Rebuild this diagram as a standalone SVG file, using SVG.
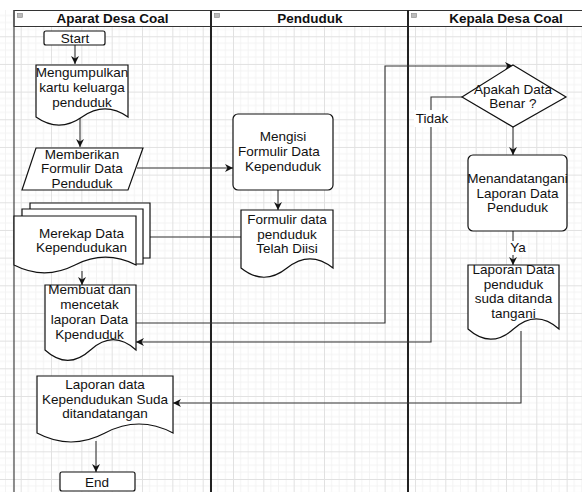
<svg xmlns="http://www.w3.org/2000/svg" width="582" height="492" viewBox="0 0 582 492">
<defs>
<pattern id="grid" patternUnits="userSpaceOnUse" x="20.7" y="8.6" width="30.33" height="27.67">
<path d="M7.58,0V27.67M15.17,0V27.67M22.75,0V27.67M0,6.92H30.33M0,13.83H30.33M0,20.75H30.33" stroke="#f3f3f3" stroke-width="1" fill="none"/>
<path d="M0.5,0V27.67M0,0.5H30.33" stroke="#e1e1e1" stroke-width="1" fill="none"/>
</pattern>
<marker id="arr" viewBox="0 0 10 10" refX="10" refY="5" markerWidth="8" markerHeight="8" markerUnits="userSpaceOnUse" orient="auto">
<path d="M0,0L10,5L0,10L3,5Z" fill="#111"/>
</marker>
<style>
.t{font-family:"Liberation Sans",Arial,sans-serif;font-size:13.5px;fill:#111;text-anchor:middle}
.h{font-family:"Liberation Sans",Arial,sans-serif;font-size:13.5px;font-weight:bold;fill:#111;text-anchor:middle}
.s{fill:#fff;stroke:#111;stroke-width:1.2}
.c{fill:none;stroke:#333;stroke-width:1.1}
.ic{fill:#bbb;stroke:#888;stroke-width:0.6}
</style>
</defs>
<rect width="582" height="492" fill="#fff"/>
<rect x="0" y="10" width="582" height="482" fill="url(#grid)"/>

<g id="lanes">
<rect x="14" y="10.5" width="580" height="16" fill="#fff" stroke="#333" stroke-width="1"/>
<line x1="14" y1="10" x2="14" y2="492" stroke="#444" stroke-width="1.2"/>
<line x1="211" y1="10" x2="211" y2="492" stroke="#222" stroke-width="2"/>
<line x1="408" y1="10" x2="408" y2="492" stroke="#222" stroke-width="2"/>
<rect class="ic" x="17.5" y="13.5" width="5" height="4"/>
<rect class="ic" x="214.5" y="13.5" width="5" height="4"/>
<rect class="ic" x="411.5" y="13.5" width="5" height="4"/>
<text class="h" x="112.5" y="23">Aparat Desa Coal</text>
<text class="h" x="310" y="23">Penduduk</text>
<text class="h" x="506" y="23">Kepala Desa Coal</text>
</g>

<g id="connectors">
<line class="c" x1="75" y1="45" x2="75" y2="64" marker-end="url(#arr)"/>
<line class="c" x1="80" y1="118" x2="80" y2="147" marker-end="url(#arr)"/>
<line class="c" x1="137" y1="168" x2="233" y2="168" marker-end="url(#arr)"/>
<line class="c" x1="278" y1="190" x2="278" y2="210" marker-end="url(#arr)"/>
<line class="c" x1="150" y1="237" x2="241" y2="237"/>
<line class="c" x1="82" y1="271" x2="82" y2="285" marker-end="url(#arr)"/>
<polyline class="c" points="136,323 385,323 385,66 513,66" marker-end="url(#arr)"/>
<polyline class="c" points="462,97 431,97 431,342 136,342" marker-end="url(#arr)"/>
<line class="c" x1="513" y1="127" x2="513" y2="155" marker-end="url(#arr)"/>
<line class="c" x1="513" y1="231" x2="513" y2="265" marker-end="url(#arr)"/>
<polyline class="c" points="521,331 521,403 173,403" marker-end="url(#arr)"/>
<line class="c" x1="96" y1="441" x2="96" y2="472" marker-end="url(#arr)"/>
<rect x="414" y="110" width="36" height="17" fill="#fff"/>
<text class="t" x="432" y="123">Tidak</text>
<rect x="508" y="241" width="20" height="14" fill="#fff"/>
<text class="t" x="518" y="252">Ya</text>
</g>

<g id="start">
<rect class="s" x="44" y="31" width="61" height="14" rx="2"/>
<text class="t" x="75" y="43">Start</text>
</g>

<g id="mengumpulkan">
<path class="s" d="M36,65H128V117Q105,100.8 82,117Q59,133.2 36,117Z"/>
<text class="t" x="82" y="77">Mengumpulkan</text>
<text class="t" x="82" y="92">kartu keluarga</text>
<text class="t" x="82" y="107">penduduk</text>
</g>

<g id="memberikan">
<polygon class="s" points="36,148 143,148 128,190 22,190"/>
<text class="t" x="82" y="158.5">Memberikan</text>
<text class="t" x="82" y="173">Formulir Data</text>
<text class="t" x="82" y="187.5">Penduduk</text>
</g>

<g id="merekap">
<path class="s" d="M30,209V203H150V258H143"/>
<path class="s" d="M22,216V209H143V264H136"/>
<path class="s" d="M14,216H136V265Q105.5,249.4 75,265Q44.5,280.6 14,265Z"/>
<text class="t" x="81.5" y="238">Merekap Data</text>
<text class="t" x="81.5" y="252">Kependudukan</text>
</g>

<g id="membuat">
<path class="s" d="M45,285H136V350Q113.25,329.3 90.5,350Q67.75,370.7 45,350Z"/>
<text class="t" x="89.5" y="294">Membuat dan</text>
<text class="t" x="89.5" y="309">mencetak</text>
<text class="t" x="89.5" y="324">laporan Data</text>
<text class="t" x="89.5" y="339">Kpenduduk</text>
</g>

<g id="laporan-final">
<path class="s" d="M37,376H173V433Q139,415 105,433Q71,451 37,433Z"/>
<text class="t" x="105" y="389">Laporan data</text>
<text class="t" x="105" y="403.5">Kependudukan Suda</text>
<text class="t" x="105" y="418">ditandatangan</text>
</g>

<g id="end">
<rect class="s" x="60" y="472" width="75" height="19" rx="2"/>
<text class="t" x="97" y="487">End</text>
</g>

<g id="mengisi">
<rect class="s" x="233" y="114" width="100" height="76" rx="5"/>
<text class="t" x="283" y="141">Mengisi</text>
<text class="t" x="279" y="156">Formulir Data</text>
<text class="t" x="283" y="171">Kependuduk</text>
</g>

<g id="formulir-diisi">
<path class="s" d="M241,210H333V268Q310,249.6 287,268Q264,286.5 241,268Z"/>
<text class="t" x="287" y="224">Formulir data</text>
<text class="t" x="287" y="238.5">penduduk</text>
<text class="t" x="287" y="252.5">Telah Diisi</text>
</g>

<g id="apakah">
<polygon class="s" points="513,65 566,97 513,127 462,97"/>
<text class="t" x="513" y="94">Apakah Data</text>
<text class="t" x="513" y="108">Benar ?</text>
</g>

<g id="menandatangani">
<rect class="s" x="468" y="155" width="99" height="76" rx="5"/>
<text class="t" x="517.5" y="183">Menandatangani</text>
<text class="t" x="517.5" y="197.5">Laporan Data</text>
<text class="t" x="517.5" y="212">Penduduk</text>
</g>

<g id="laporan-penduduk">
<path class="s" d="M468,265H559V329Q536.25,308.7 513.5,329Q490.75,349.3 468,329Z"/>
<text class="t" x="513.5" y="274">Laporan Data</text>
<text class="t" x="513.5" y="288.5">penduduk</text>
<text class="t" x="513.5" y="303">suda ditanda</text>
<text class="t" x="513.5" y="317.5">tangani</text>
</g>
</svg>
